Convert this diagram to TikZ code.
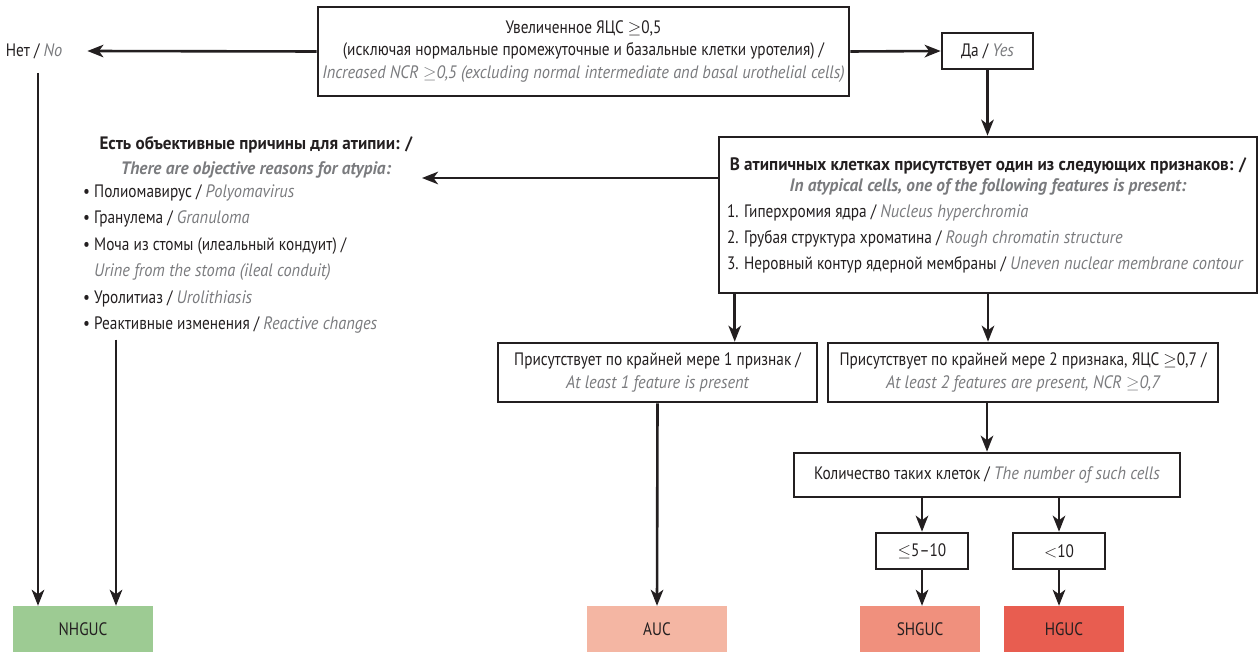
\documentclass[tikz,border=0pt]{standalone}
\usepackage{fontspec}
\setmainfont{PT Sans}[UprightFeatures={FakeStretch=0.85}, ItalicFeatures={FakeStretch=0.91},
  BoldFeatures={FakeStretch=0.95}, BoldItalicFeatures={FakeStretch=0.96}]
\usetikzlibrary{arrows.meta,positioning,calc}
\definecolor{ink}{HTML}{231F20}
\definecolor{engray}{HTML}{7A7B7E}
\definecolor{cnhg}{HTML}{9DCB93}
\definecolor{cauc}{HTML}{F4B6A3}
\definecolor{cshg}{HTML}{F0907D}
\definecolor{chg}{HTML}{E85D50}
\newcommand{\eng}[1]{{\color{engray}\itshape #1}}
\tikzset{
  crit/.style={draw=ink, line width=2.6pt, fill=white, align=center, inner sep=0pt,
               text=ink, font=\fontsize{18}{22.5}\selectfont},
  res/.style={minimum height=46pt, inner sep=0pt, text=ink, font=\fontsize{18}{20}\selectfont},
  arr/.style={-{Stealth[length=16pt,width=12.5pt,inset=4.5pt]}, ink, line width=2.6pt},
  lbl/.style={align=left, inner sep=0pt, text=ink, font=\fontsize{18}{26.4}\selectfont},
}

\begin{document}
\begin{tikzpicture}[x=1pt,y=-1pt]
  \useasboundingbox (0,0) rectangle (1259,652);
  \node[crit, minimum width=531pt, minimum height=89pt] (ratio) at (583.5,51.5)
    {Увеличенное ЯЦС $\geq$0,5\\(исключая нормальные промежуточные и базальные клетки уротелия) /\\
     \eng{Increased NCR $\geq$0,5 (excluding normal intermediate and basal urothelial cells)}};
  \node[lbl] (no) at (34,51) {Нет / \eng{No}};
  \node[crit, minimum width=91pt, minimum height=36pt] (yes) at (987.5,51) {Да / \eng{Yes}};
  \node[crit, minimum width=538pt, minimum height=156pt, font=\fontsize{18}{21}\selectfont] (feat) at (988,215)
    {\makebox[522pt]{\bfseries В атипичных клетках присутствует один из следующих признаков: /}\\
     \makebox[522pt]{\bfseries\eng{In atypical cells, one of the following features is present:}}\\[5pt]
     \makebox[522pt][l]{1. Гиперхромия ядра / \eng{Nucleus hyperchromia}}\\[5pt]
     \makebox[522pt][l]{2. Грубая структура хроматина / \eng{Rough chromatin structure}}\\[5pt]
     \makebox[522pt][l]{3. Неровный контур ядерной мембраны / \eng{Uneven nuclear membrane contour}}};
  \node[lbl, align=center, font=\fontsize{18}{25}\selectfont] (reasons) at (256,157)
    {\bfseries Есть объективные причины для атипии: /\\
     \bfseries\eng{There are objective reasons for atypia:}};
  \coordinate (atyp) at (422,178);
  \node[lbl, anchor=west] (causes) at (83,259)
    {\textbullet\ Полиомавирус / \eng{Polyomavirus}\\
     \textbullet\ Гранулема / \eng{Granuloma}\\
     \textbullet\ Моча из стомы (илеальный кондуит) /\\
     \hphantom{\textbullet\ }\eng{Urine from the stoma (ileal conduit)}\\
     \textbullet\ Уролитиаз / \eng{Urolithiasis}\\
     \textbullet\ Реактивные изменения / \eng{Reactive changes}};
  \node[crit, minimum width=319pt, minimum height=59pt] (one) at (657.5,372.5)
    {Присутствует по крайней мере 1 признак /\\\eng{At least 1 feature is present}};
  \node[crit, minimum width=390pt, minimum height=59pt] (two) at (1023,372.5)
    {Присутствует по крайней мере 2 признака, ЯЦС $\geq$0,7 /\\\eng{At least 2 features are present, NCR $\geq$0,7}};
  \node[crit, minimum width=386pt, minimum height=44pt] (count) at (987,475)
    {Количество таких клеток / \eng{The number of such cells}};
  \node[crit, minimum width=92pt, minimum height=36pt] (le) at (922,551) {$\leq$5--10};
  \node[crit, minimum width=92pt, minimum height=36pt] (lt) at (1059,551) {$<$10};
  \node[res, fill=cnhg, minimum width=140pt] (nhguc) at (83,629) {NHGUC};
  \node[res, fill=cauc, minimum width=140pt] (auc) at (657,629) {AUC};
  \node[res, fill=cshg, minimum width=120pt] (shguc) at (920,629) {SHGUC};
  \node[res, fill=chg, minimum width=120pt] (hguc) at (1064,629) {HGUC};

  \draw[arr] (ratio.west) -- ([xshift=25pt]no.east);
  \draw[arr] (ratio.east) -- (yes.west);
  \draw[arr] (yes.south) -- (yes.south |- feat.north);
  \draw[arr] (feat.west |- atyp) -- (atyp);
  \draw[arr, shorten <=14pt] ([xshift=4pt]no.south) -- ([xshift=4pt]no.south |- nhguc.north);
  \draw[arr, shorten <=6pt] ([xshift=33pt]causes.south west) -- ([xshift=33pt]causes.south west |- nhguc.north);
  \draw[arr] ([xshift=17pt]feat.south west) -- ([xshift=17pt]feat.south west |- one.north);
  \draw[arr] (feat.south) -- (feat.south |- two.north);
  \draw[arr] (one.south) -- (auc.north);
  \draw[arr] (two.south -| count.north) -- (count.north);
  \draw[arr] (count.south -| le.north) -- (le.north);
  \draw[arr] (count.south -| lt.north) -- (lt.north);
  \draw[arr] (le.south) -- (le.south |- shguc.north);
  \draw[arr] (lt.south) -- (lt.south |- hguc.north);
\end{tikzpicture}
\end{document}
